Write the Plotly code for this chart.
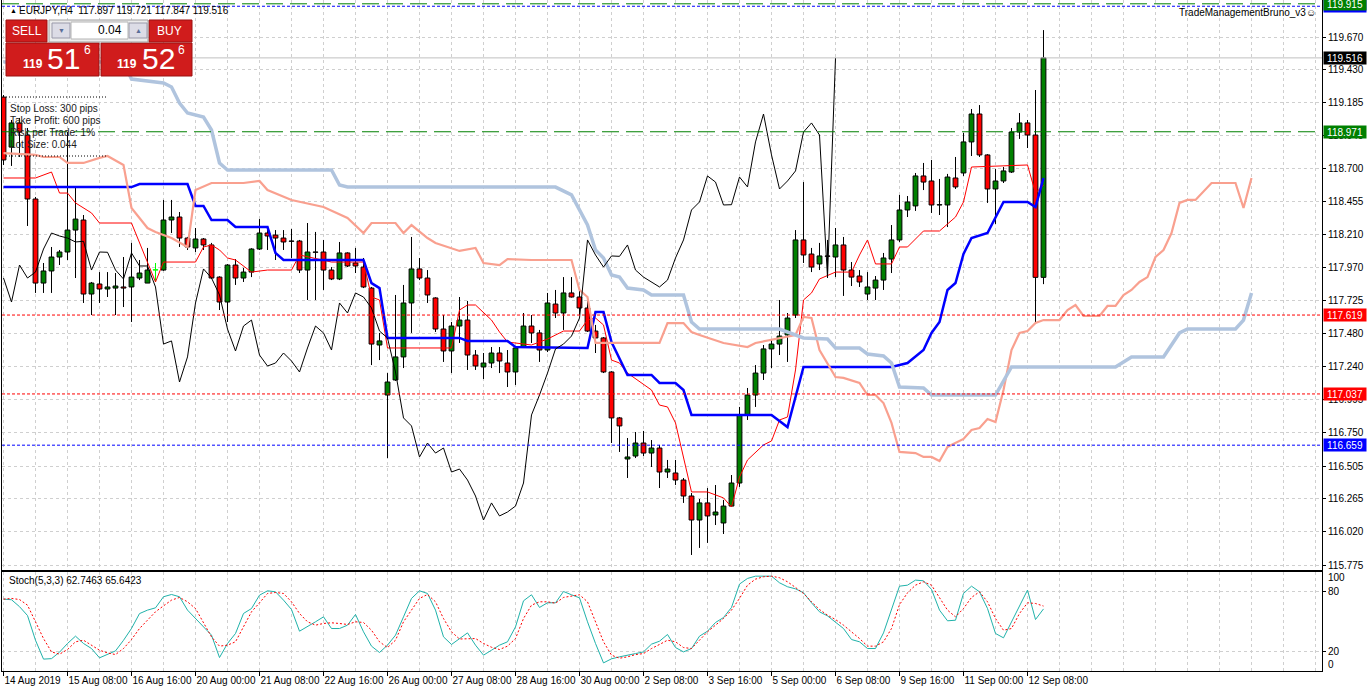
import plotly.graph_objects as go

# EURJPY H4, bar 0 = 14 Aug 2019 00:00 ... bar 130 = 12 Sep 2019 16:00
open_ = [119.227, 118.858, 119.036, 118.947, 118.475, 117.855, 117.944, 118.047, 118.084, 118.246,
         118.320, 117.774, 117.848, 117.811, 117.818, 117.826, 117.826, 117.892, 117.855, 117.951,
         117.951, 118.320, 118.342, 118.187, 118.114, 118.180, 118.136, 117.899, 117.715, 117.988,
         117.892, 117.936, 118.106, 118.224, 118.209, 118.187, 118.165, 118.165, 117.951, 118.084,
         118.084, 117.951, 117.885, 118.077, 118.003, 117.973, 117.818, 117.398, 117.029, 117.140,
         117.310, 117.708, 117.959, 117.892, 117.745, 117.516, 117.354, 117.538, 117.582, 117.324,
         117.236, 117.265, 117.339, 117.265, 117.199, 117.383, 117.538, 117.487, 117.361, 117.700,
         117.634, 117.782, 117.752, 117.671, 117.501, 117.450, 117.199, 116.860, 116.557, 116.579,
         116.675, 116.601, 116.638, 116.461, 116.454, 116.402, 116.284, 116.107, 116.233, 116.144,
         116.085, 116.210, 116.380, 116.882, 117.029, 117.191, 117.369, 117.405, 117.472, 117.619,
         118.173, 118.069, 117.996, 118.055, 118.047, 118.136, 117.951, 117.907, 117.774, 117.818,
         117.877, 118.032, 118.173, 118.394, 118.424, 118.645, 118.608, 118.431, 118.431, 118.630,
         118.667, 118.896, 119.102, 118.800, 118.549, 118.608, 118.674, 118.969, 119.036, 118.947,
         117.897]
high_ = [119.242, 119.058, 119.073, 118.999, 118.490, 118.003, 118.121, 118.099, 118.969, 118.556,
         118.357, 117.863, 117.936, 117.936, 117.929, 118.047, 118.151, 118.025, 118.114, 118.003,
         118.468, 118.468, 118.379, 118.195, 118.261, 118.187, 118.151, 117.905, 117.995, 118.032,
         117.966, 118.112, 118.327, 118.261, 118.246, 118.246, 118.254, 118.173, 118.298, 118.232,
         118.173, 117.973, 118.158, 118.082, 118.114, 118.040, 117.826, 117.487, 117.191, 117.767,
         117.841, 118.195, 118.040, 117.951, 117.750, 117.619, 117.568, 117.752, 117.723, 117.361,
         117.339, 117.383, 117.383, 117.361, 117.381, 117.634, 117.619, 117.509, 117.782, 117.804,
         117.899, 117.899, 117.818, 117.752, 117.546, 117.457, 117.205, 116.867, 116.712, 116.756,
         116.764, 116.697, 116.661, 116.550, 116.550, 116.417, 116.306, 116.262, 116.343, 116.365,
         116.255, 116.439, 116.941, 117.081, 117.250, 117.398, 117.442, 117.730, 117.634, 118.246,
         118.600, 118.114, 118.151, 118.173, 118.261, 118.195, 118.010, 117.951, 117.936, 117.907,
         118.077, 118.283, 118.505, 118.497, 118.667, 118.741, 118.763, 118.623, 118.660, 118.785,
         118.962, 119.139, 119.168, 118.806, 118.696, 118.711, 118.999, 119.109, 119.058, 119.279,
         119.721]
low_ = [118.726, 118.719, 118.785, 118.276, 117.782, 117.782, 117.782, 117.988, 118.025, 117.892,
        117.708, 117.619, 117.708, 117.752, 117.619, 117.678, 117.568, 117.877, 117.855, 117.863,
        117.945, 118.224, 118.121, 118.099, 118.084, 118.099, 117.885, 117.656, 117.568, 117.841,
        117.863, 117.899, 118.099, 118.099, 118.025, 118.099, 118.040, 117.929, 117.730, 117.730,
        117.804, 117.877, 117.877, 117.973, 117.929, 117.818, 117.250, 117.287, 116.564, 117.133,
        117.228, 117.487, 117.877, 117.708, 117.494, 117.273, 117.191, 117.413, 117.214, 117.214,
        117.147, 117.228, 117.191, 117.088, 117.103, 117.376, 117.413, 117.273, 117.346, 117.597,
        117.509, 117.748, 117.619, 117.494, 117.339, 117.191, 116.675, 116.609, 116.417, 116.564,
        116.579, 116.498, 116.343, 116.417, 116.365, 116.233, 115.849, 115.901, 115.938, 116.070,
        116.004, 116.203, 116.351, 116.845, 116.941, 117.140, 117.228, 117.324, 117.273, 117.597,
        118.003, 117.936, 117.951, 117.892, 117.899, 117.760, 117.833, 117.826, 117.730, 117.730,
        117.804, 117.929, 118.158, 118.342, 118.387, 118.541, 118.372, 118.357, 118.268, 118.549,
        118.645, 118.792, 118.785, 118.446, 118.291, 118.593, 118.667, 118.918, 118.851, 117.560,
        117.847]
close_ = [118.763, 119.036, 118.969, 118.475, 117.855, 117.944, 118.047, 118.084, 118.246, 118.327,
          117.774, 117.855, 117.811, 117.826, 117.833, 117.818, 117.899, 117.929, 117.951, 117.953,
          118.320, 118.342, 118.187, 118.121, 118.180, 118.136, 117.892, 117.715, 117.988, 117.892,
          117.936, 118.106, 118.224, 118.202, 118.187, 118.158, 118.163, 117.951, 118.084, 118.082,
          117.951, 117.885, 118.077, 117.981, 117.981, 117.826, 117.405, 117.428, 117.125, 117.310,
          117.708, 117.959, 117.892, 117.767, 117.516, 117.354, 117.538, 117.582, 117.324, 117.243,
          117.265, 117.339, 117.280, 117.199, 117.376, 117.538, 117.487, 117.361, 117.708, 117.634,
          117.782, 117.752, 117.671, 117.501, 117.450, 117.199, 116.860, 116.801, 116.572, 116.675,
          116.601, 116.638, 116.461, 116.483, 116.402, 116.284, 116.107, 116.233, 116.137, 116.166,
          116.210, 116.380, 116.882, 117.029, 117.191, 117.369, 117.405, 117.464, 117.597, 118.173,
          118.062, 117.973, 118.055, 118.052, 118.136, 117.951, 117.899, 117.863, 117.826, 117.877,
          118.040, 118.173, 118.394, 118.453, 118.645, 118.600, 118.431, 118.433, 118.637, 118.564,
          118.896, 119.102, 118.800, 118.549, 118.608, 118.682, 118.969, 119.036, 118.947, 117.897,
          119.516]
lime_bars = [19]   # drawn in the "line graph" colour

# ichimoku lines, read as (bar, price) vertices
tenkan_x = [0, 4, 6, 7, 8, 9, 11, 12, 16, 17, 18, 19, 20, 24, 25, 26, 27, 28, 29, 31,
            33, 36, 37, 41, 45, 46, 47, 48, 56, 57, 58, 59, 61, 62, 63, 66, 68, 70, 72, 73,
            74, 75, 76, 77, 78, 81, 82, 83, 84, 86, 88, 90, 91, 92, 93, 95, 96, 97, 98, 99,
            100, 101, 102, 104, 106, 107, 108, 109, 111, 112, 113, 115, 117, 119, 120, 121, 128, 129, 130]
tenkan_y = [118.630, 118.630, 118.674, 118.519, 118.519, 118.446, 118.372, 118.298, 118.298, 118.151,
            118.003, 117.863, 118.010, 118.010, 118.121, 118.136, 118.099, 118.040, 118.025, 117.936,
            117.951, 117.951, 118.062, 118.010, 118.010, 117.752, 117.730, 117.376, 117.376, 117.656,
            117.693, 117.693, 117.582, 117.494, 117.420, 117.398, 117.442, 117.501, 117.501, 117.582,
            117.597, 117.546, 117.287, 117.265, 117.191, 117.066, 116.955, 116.941, 116.823, 116.314,
            116.314, 116.270, 116.203, 116.424, 116.550, 116.661, 116.690, 116.845, 116.867, 117.214,
            117.730, 117.782, 117.885, 117.936, 117.936, 118.062, 118.173, 117.996, 117.996, 118.121,
            118.121, 118.239, 118.239, 118.342, 118.453, 118.711, 118.726, 118.519, 118.578]
kijun_x = [0, 16, 17, 23, 24, 25, 26, 28, 29, 33, 34, 35, 45, 46, 47, 48, 57, 58, 63, 64,
           73, 74, 75, 76, 78, 81, 82, 84, 85, 86, 96, 98, 100, 111, 113, 115, 116, 117, 118, 119,
           120, 121, 123, 125, 128, 129, 130]
kijun_y = [118.563, 118.563, 118.586, 118.586, 118.424, 118.424, 118.320, 118.320, 118.268, 118.268,
           118.077, 118.025, 118.025, 117.855, 117.818, 117.450, 117.450, 117.428, 117.428, 117.383,
           117.376, 117.641, 117.641, 117.420, 117.177, 117.177, 117.118, 117.118, 117.066, 116.882,
           116.882, 116.793, 117.236, 117.236, 117.265, 117.361, 117.487, 117.568, 117.804, 117.855,
           118.069, 118.187, 118.224, 118.453, 118.453, 118.416, 118.630]
spanA_x = [0, 4, 5, 7, 8, 10, 12, 13, 15, 16, 18, 19, 21, 23, 24, 26, 30, 32, 33, 36,
           40, 43, 45, 46, 49, 50, 51, 53, 54, 57, 59, 60, 62, 63, 66, 71, 72, 73, 74, 82,
           83, 85, 86, 87, 90, 93, 94, 96, 97, 99, 100, 101, 102, 104, 105, 107, 108, 109, 110, 111,
           112, 114, 115, 116, 117, 118, 120, 121, 122, 123, 124, 125, 126, 127, 128, 129, 130, 132, 133, 134,
           135, 137, 138, 139, 140, 141, 142, 143, 144, 145, 146, 147, 148, 149, 151, 154, 155, 156]
spanA_y = [118.814, 118.800, 118.785, 118.785, 118.741, 118.741, 118.778, 118.792, 118.726, 118.409,
           118.261, 118.232, 118.187, 118.121, 118.541, 118.593, 118.593, 118.608, 118.541, 118.468,
           118.416, 118.335, 118.224, 118.298, 118.298, 118.224, 118.283, 118.187, 118.151, 118.092,
           118.114, 118.003, 117.988, 118.032, 118.025, 118.025, 117.804, 117.752, 117.413, 117.413,
           117.560, 117.560, 117.494, 117.472, 117.413, 117.383, 117.413, 117.435, 117.450, 117.472,
           117.605, 117.597, 117.361, 117.162, 117.155, 117.118, 117.029, 117.029, 116.970, 116.823,
           116.609, 116.601, 116.572, 116.572, 116.542, 116.646, 116.705, 116.771, 116.786, 116.852,
           116.830, 117.066, 117.361, 117.487, 117.501, 117.560, 117.582, 117.582, 117.656, 117.693,
           117.612, 117.612, 117.686, 117.686, 117.767, 117.804, 117.863, 117.899, 118.047, 118.099,
           118.224, 118.446, 118.468, 118.468, 118.593, 118.593, 118.409, 118.630]
spanB_x = [0, 15, 16, 20, 21, 22, 23, 25, 26, 27, 28, 41, 42, 43, 69, 71, 73, 74, 75, 76,
           77, 78, 80, 81, 85, 86, 87, 97, 100, 103, 104, 107, 108, 110, 111, 112, 115, 116, 124, 126,
           139, 141, 145, 147, 148, 154, 155, 156]
spanB_y = [119.486, 119.486, 119.360, 119.331, 119.301, 119.183, 119.109, 119.080, 118.984, 118.741,
           118.689, 118.689, 118.578, 118.563, 118.563, 118.505, 118.283, 118.099, 118.040, 117.914,
           117.899, 117.818, 117.804, 117.767, 117.767, 117.568, 117.516, 117.516, 117.450, 117.442,
           117.376, 117.376, 117.332, 117.317, 117.265, 117.088, 117.081, 117.029, 117.029, 117.236,
           117.236, 117.310, 117.310, 117.487, 117.516, 117.516, 117.582, 117.782]
chikou_shift = 26

# stochastic (5,3,3)
stoch_k = [72.6, 72, 65, 56, 31, 12, 12.5, 19, 27.8, 35.2,
           27.8, 22.7, 13.3, 17, 20.3, 31, 43, 58, 61.5, 63.8,
           75, 77.3, 75, 61.5, 53, 44.6, 36.2, 13.6, 27.8, 37.9,
           58.1, 63.1, 76.6, 81, 80, 71.6, 62.1, 40.2, 44.6, 49.7,
           54.7, 42.9, 42.9, 46.3, 57.1, 39.6, 25.1, 18.7, 26.1, 36.2,
           54.7, 73.3, 81, 78.3, 61.5, 34.5, 26.8, 32.8, 38.5, 26.1,
           16, 21, 26.1, 29.5, 44.6, 70.9, 77, 64.2, 68.9, 68.9,
           80.3, 77, 73.9, 49.7, 27.8, 8.2, 12.3, 14.3, 16.3, 17.6,
           19.3, 27.1, 30.1, 36.9, 23.7, 19.3, 22.7, 35.2, 40.2, 49,
           54, 64.2, 87.8, 93.5, 95.8, 95.8, 95.8, 89.1, 85.1, 83,
           79, 68.9, 59.8, 55.7, 49.7, 42.9, 31.8, 29.5, 22.7, 22.7,
           38.5, 63.1, 85.7, 86.7, 91.8, 91.1, 82.4, 61.5, 50.7, 51.3,
           78.3, 85.7, 80, 63.1, 37.9, 33.5, 49.7, 66.5, 81.7, 52,
           62.7]
stoch_d = [72.6, 73.3, 72.2, 66.5, 49.7, 32.8, 19.3, 17, 21.7, 29.5,
           31.1, 26.1, 21, 18.3, 16.6, 22.7, 31.8, 42.9, 51.4, 59.8,
           65.8, 71.6, 74.3, 69.9, 63.1, 48, 34.5, 25.1, 26.1, 29.5,
           44.6, 59.8, 68.9, 78.3, 79.3, 78.3, 69.9, 58.1, 49.7, 46.3,
           48, 48.7, 48, 47, 49.7, 49, 41.2, 29.5, 23.7, 31.1,
           49.7, 61.5, 73.3, 77.3, 69.9, 53, 39.6, 32.3, 32.8, 32.8,
           27.8, 24, 21.7, 25.1, 32.8, 53, 66.5, 69.9, 69.9, 68.5,
           74.3, 75.6, 77, 69.9, 49.7, 29.5, 16, 12.9, 14.3, 16.6,
           17.6, 22.7, 26.8, 31.1, 29.5, 23.7, 22.7, 31.1, 39.6, 46.3,
           53, 61.5, 73.3, 86.7, 92.8, 95.2, 95.8, 94.2, 90.1, 84.4,
           78.3, 69.9, 62.1, 56.4, 52, 46.3, 39.6, 32.8, 25.1, 25.1,
           29.5, 42.9, 67, 79, 86.7, 90.1, 86.7, 74.3, 61.5, 54.7,
           63.1, 74.3, 80, 69.9, 53, 41.2, 42.9, 58.1, 68.9, 68.2,
           65.6]

time_ticks = list(range(0, 129, 8))
time_labels = ["14 Aug 2019", "15 Aug 08:00", "16 Aug 16:00", "20 Aug 00:00", "21 Aug 08:00",
               "22 Aug 16:00", "26 Aug 00:00", "27 Aug 08:00", "28 Aug 16:00", "30 Aug 00:00",
               "2 Sep 08:00", "3 Sep 16:00", "5 Sep 00:00", "6 Sep 08:00", "9 Sep 16:00",
               "11 Sep 00:00", "12 Sep 08:00"]
price_ticks = [115.775, 116.020, 116.265, 116.505, 116.750, 116.995, 117.240, 117.480, 117.725,
               117.970, 118.210, 118.455, 118.700, 118.940, 119.185, 119.430, 119.670]

# horizontal objects: price, colour, dash (listed bottom of the stack first)
level_prices = [119.897, 119.915, 118.971, 117.619, 117.037, 116.659]
level_colors = ["#0000ff", "#008000", "#008000", "#ff0000", "#ff0000", "#0000ff"]
level_dash = ["3px,2px", "17px,7px", "17px,7px", "3px,2px", "3px,2px", "3px,2px"]
bid_price = 119.516

FONT = "Liberation Sans, Arial, sans-serif"
GRID = "#cfcfcf"
W, H = 1368, 692
ML, MR, MB = 2, 46, 21
PW, PH = W - ML - MR, H - MB


def px(x):
    return (x - ML) / PW


def py(y):
    return (PH - y) / PH


bars = list(range(len(close_)))
fig = go.Figure()

# candle bodies
body_base, body_h, body_col, line_col = [], [], [], []
for i in bars:
    o, c = open_[i], close_[i]
    body_base.append(min(o, c))
    body_h.append(max(abs(c - o), 0.0015))
    if i in lime_bars:
        body_col.append("#00ff00")
        line_col.append("#00ff00")
    else:
        body_col.append("#008000" if c > o else "#ff0000")
        line_col.append("#000000")
fig.add_trace(go.Bar(x=bars, y=body_h, base=body_base, width=0.6,
                     marker=dict(color=body_col, line=dict(color=line_col, width=1)),
                     xaxis="x", yaxis="y"))

# wicks (upper and lower pieces so they do not cross the bodies)
wx, wy, lx, ly = [], [], [], []
for i in bars:
    top = max(open_[i], close_[i])
    bot = min(open_[i], close_[i])
    tx, ty = (lx, ly) if i in lime_bars else (wx, wy)
    tx += [i, i, None, i, i, None]
    ty += [high_[i], top, None, bot, low_[i], None]
fig.add_trace(go.Scatter(x=wx, y=wy, mode="lines", line=dict(color="black", width=1)))
fig.add_trace(go.Scatter(x=lx, y=ly, mode="lines", line=dict(color="#00ff00", width=1)))

# ichimoku
fig.add_trace(go.Scatter(x=tenkan_x, y=tenkan_y, mode="lines", line=dict(color="#ff0000", width=1)))
fig.add_trace(go.Scatter(x=kijun_x, y=kijun_y, mode="lines", line=dict(color="#0000ff", width=2.5)))
fig.add_trace(go.Scatter(x=spanA_x, y=spanA_y, mode="lines", line=dict(color="#f9a08f", width=2.2)))
fig.add_trace(go.Scatter(x=spanB_x, y=spanB_y, mode="lines", line=dict(color="#b0c4de", width=3.5)))
chikou_x = [i - chikou_shift for i in bars[chikou_shift:]]
fig.add_trace(go.Scatter(x=chikou_x, y=close_[chikou_shift:], mode="lines",
                         line=dict(color="black", width=1)))

# stochastic
fig.add_trace(go.Scatter(x=bars, y=stoch_k, mode="lines", line=dict(color="#20b2aa", width=1),
                         xaxis="x2", yaxis="y2"))
fig.add_trace(go.Scatter(x=bars, y=stoch_d, mode="lines", line=dict(color="#ff0000", width=1, dash="2px,2px"),
                         xaxis="x2", yaxis="y2"))

shapes = []
shapes.append(dict(type="line", xref="paper", yref="y", x0=0, x1=1, y0=bid_price, y1=bid_price,
                   line=dict(color="#c0c0c0", width=1)))
for p, col, d in zip(level_prices, level_colors, level_dash):
    shapes.append(dict(type="line", xref="paper", yref="y", x0=0, x1=1, y0=p, y1=p,
                       line=dict(color=col, width=1, dash=d)))

# trade panel
red = "#d01c1c"
dark = "#9c1010"
for x0, y0, x1, y1 in [(6, 20, 47, 42), (149, 20, 192, 42), (6, 43, 99, 76), (101, 43, 192, 76)]:
    shapes.append(dict(type="rect", xref="paper", yref="paper", x0=px(x0), x1=px(x1), y0=py(y1), y1=py(y0),
                       fillcolor=red, line=dict(color=dark, width=1)))
shapes.append(dict(type="rect", xref="paper", yref="paper", x0=px(49), x1=px(148), y0=py(42), y1=py(20),
                   fillcolor="#ececec", line=dict(color="#a0a0a0", width=1)))
for x0, x1 in [(52, 70), (129, 147)]:
    shapes.append(dict(type="rect", xref="paper", yref="paper", x0=px(x0), x1=px(x1), y0=py(38), y1=py(23),
                       fillcolor="#dcdce6", line=dict(color="#9a9aaa", width=1)))
shapes.append(dict(type="rect", xref="paper", yref="paper", x0=px(71), x1=px(128), y0=py(39), y1=py(22),
                   fillcolor="white", line=dict(color="#b4b4b4", width=1)))
for yy in [97, 156]:
    shapes.append(dict(type="line", xref="paper", yref="paper", x0=px(6), x1=px(106), y0=py(yy), y1=py(yy),
                       line=dict(color="black", width=1, dash="1px,2px")))

ann = []


def text(x, y, s, size=10, color="black", anchor="left", **kw):
    ann.append(dict(xref="paper", yref="paper", x=px(x), y=py(y), text=s, showarrow=False,
                    xanchor=anchor, yanchor="middle", font=dict(family=FONT, size=size, color=color), **kw))


text(8, 10, "▲", size=7)
text(17, 10, "EURJPY,H4  117.897 119.721 117.847 119.516", size=10)
text(1318, 13, "TradeManagementBruno_v3☺", size=10, anchor="right")
text(27, 31, "SELL", size=12, color="white", anchor="center")
text(170, 31, "BUY", size=12, color="white", anchor="center")
text(61, 30, "▼", size=7, color="#5a6e9a", anchor="center")
text(138, 30, "▲", size=7, color="#5a6e9a", anchor="center")
text(124, 30, "0.04", size=12, anchor="right")
text(33, 64, "<b>119</b>", size=12, color="white", anchor="center")
text(63, 58, "51", size=30, color="white", anchor="center")
text(87, 50, "6", size=12, color="white", anchor="center")
text(127, 64, "<b>119</b>", size=12, color="white", anchor="center")
text(158, 58, "52", size=30, color="white", anchor="center")
text(181, 50, "6", size=12, color="white", anchor="center")
for k, s in enumerate(["Stop Loss: 300 pips", "Take Profit: 600 pips", "Risk per Trade: 1%", "Lot Size: 0.044"]):
    text(8, 108 + 12 * k, s, size=10, color="#202020")
text(7, 580, "Stoch(5,3,3) 62.7463 65.6423", size=10)
text(1326, 577, "100", size=10)
text(1326, 664, "0", size=10)

# price boxes on the axis
box_prices = level_prices + [bid_price]
box_colors = level_colors + ["#000000"]
for p, col in zip(box_prices, box_colors):
    ann.append(dict(xref="paper", yref="y", x=1, y=p, xanchor="left", yanchor="middle", xshift=1,
                    text=f"{p:.3f}", showarrow=False, bgcolor=col, width=42, height=12, borderpad=0,
                    font=dict(family=FONT, size=10, color="white")))

xr = [-0.1875, -0.1875 + PW / 8]
xgrid = dict(showgrid=True, gridcolor=GRID, griddash="3px,3px", gridwidth=1, automargin=False)
minor = dict(tickmode="linear", tick0=0, dtick=4, showgrid=True, gridcolor=GRID, griddash="3px,3px")

fig.update_layout(
    width=W, height=H, margin=dict(l=ML, r=MR, t=0, b=MB, autoexpand=False),
    paper_bgcolor="white", plot_bgcolor="white", showlegend=False, hovermode=False,
    font=dict(family=FONT, size=10, color="black"),
    xaxis=dict(domain=[0, 1], range=xr, anchor="y", tickmode="array", tickvals=time_ticks,
               showticklabels=False, ticks="", zeroline=False, showline=True, linecolor="black",
               linewidth=1, minor=minor, **xgrid),
    yaxis=dict(domain=[(PH - 570) / PH, 1], range=[119.943 - 570 * 0.0073768, 119.943], side="right",
               anchor="x", tickmode="array", tickvals=price_ticks, ticktext=[f"{v:.3f}" for v in price_ticks],
               ticks="outside", ticklen=3, tickcolor="black", showline=True, mirror=True, linecolor="black",
               linewidth=1, zeroline=False, tickfont=dict(size=10), **xgrid),
    xaxis2=dict(domain=[0, 1], range=xr, anchor="y2", tickmode="array", tickvals=time_ticks,
                ticktext=time_labels, ticks="outside", ticklen=4, tickcolor="black", tickangle=0,
                ticklabelposition="outside right", tickfont=dict(size=10), zeroline=False,
                showline=True, mirror=True, linecolor="black", linewidth=1, minor=minor, **xgrid),
    yaxis2=dict(domain=[0, (PH - 572) / PH], range=[0, 100], side="right", anchor="x2",
                tickmode="array", tickvals=[20, 80], ticks="outside", ticklen=3, tickcolor="black",
                showline=True, mirror=True, linecolor="black", linewidth=1, zeroline=False,
                tickfont=dict(size=10), **xgrid),
    shapes=shapes, annotations=ann,
)

fig.write_html("out.html", config={"displayModeBar": False},
               post_script="document.body.style.margin='0';document.body.style.overflow='hidden';")
